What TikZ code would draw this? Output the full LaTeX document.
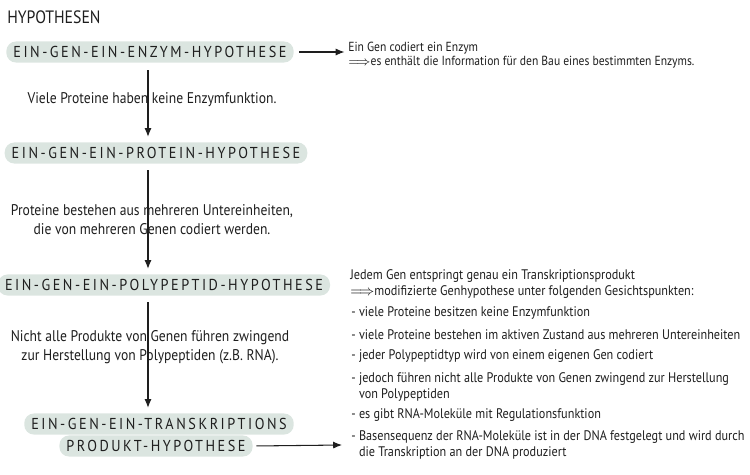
\documentclass[tikz,border=0pt]{standalone}
\usepackage{fontspec}
\setmainfont{PT Sans}[FakeStretch=0.88]
\newfontfamily\hypfont{PT Sans}[LetterSpace=16,FakeStretch=0.9]
\usepackage{tikz}
\usetikzlibrary{arrows.meta,calc}
\definecolor{hypfill}{RGB}{219,229,224}
\definecolor{ink}{RGB}{30,30,30}
\tikzset{
  hyp/.style={fill=hypfill,rounded corners=5.5pt,inner xsep=4pt,inner ysep=0pt,
    minimum height=12pt,font=\hypfont\fontsize{9}{9}\selectfont,text=ink},
  note/.style={font=\fontsize{8.8}{10.8}\selectfont,align=center,text=ink,inner sep=0pt},
  side/.style={font=\fontsize{7.9}{9}\selectfont,align=left,anchor=west,text=ink,inner sep=0pt},
  flow/.style={-{Latex[length=5pt,width=4pt]},line width=0.6pt,ink}
}
\newcommand{\impl}{$\Longrightarrow$}
\begin{document}
\begin{tikzpicture}[x=0.02cm,y=-0.02cm]
\useasboundingbox (0,0) rectangle (750,474);
\node[anchor=west,inner sep=0pt,text=ink,font=\fontsize{10.2}{10}\selectfont] (title) at (7,17) {HYPOTHESEN};

% hypotheses
\node[hyp] (h1) at (150,52) {EIN-GEN-EIN-ENZYM-HYPOTHESE};
\node[hyp] (h2) at (156,153) {EIN-GEN-EIN-PROTEIN-HYPOTHESE};
\node[hyp] (h3) at (164,285) {EIN-GEN-EIN-POLYPEPTID-HYPOTHESE};
\node[hyp] (h4a) at (159,424) {EIN-GEN-EIN-TRANSKRIPTIONS};
\node[hyp] (h4b) at (156,446) {PRODUKT-HYPOTHESE};

% reasons between them
\coordinate (c1) at (148,63);
\coordinate (c2) at (148,163);
\coordinate (c3) at (148,295);
\draw[flow,shorten <=4pt,shorten >=3pt] (c1) -- (c1 |- h2.north);
\draw[flow,shorten <=4pt,shorten >=3pt] (c2) -- (c2 |- h3.north);
\draw[flow,shorten <=4pt,shorten >=3pt] (c3) -- (c3 |- h4a.north);
\node[note] (r1) at (152,100) {Viele Proteine haben keine Enzymfunktion.};
\node[note] (r2) at (152,220) {Proteine bestehen aus mehreren Untereinheiten,\\die von mehreren Genen codiert werden.};
\node[note] (r3) at (150,347) {Nicht alle Produkte von Genen führen zwingend\\zur Herstellung von Polypeptiden (z.B. RNA).};

% side notes
\node[side,font=\fontsize{7.5}{8}\selectfont] (n1) at (348,55) {Ein Gen codiert ein Enzym\\\impl es enthält die Information für den Bau eines bestimmten Enzyms.};
\draw[flow,shorten <=3pt,shorten >=2pt] (h1.east) -- (h1.east -| n1.west);

\node[side] (n4) at (350,284) {Jedem Gen entspringt genau ein Transkriptionsprodukt\\\impl modifizierte Genhypothese unter folgenden Gesichtspunkten:};
\foreach \y/\t in {313/{viele Proteine besitzen keine Enzymfunktion},
  335/{viele Proteine bestehen im aktiven Zustand aus mehreren Untereinheiten},
  356/{jeder Polypeptidtyp wird von einem eigenen Gen codiert},
  387/{jedoch führen nicht alle Produkte von Genen zwingend zur Herstellung\\\phantom{- }von Polypeptiden},
  415/{es gibt RNA-Moleküle mit Regulationsfunktion},
  445/{Basensequenz der RNA-Moleküle ist in der DNA festgelegt und wird durch\\\phantom{- }die Transkription an der DNA produziert}}
  { \node[side] at (351,\y) {- \t}; }
\coordinate (e4) at (342,445);
\draw[flow,shorten <=2pt] (h4b.east) -- (e4);
\end{tikzpicture}
\end{document}
